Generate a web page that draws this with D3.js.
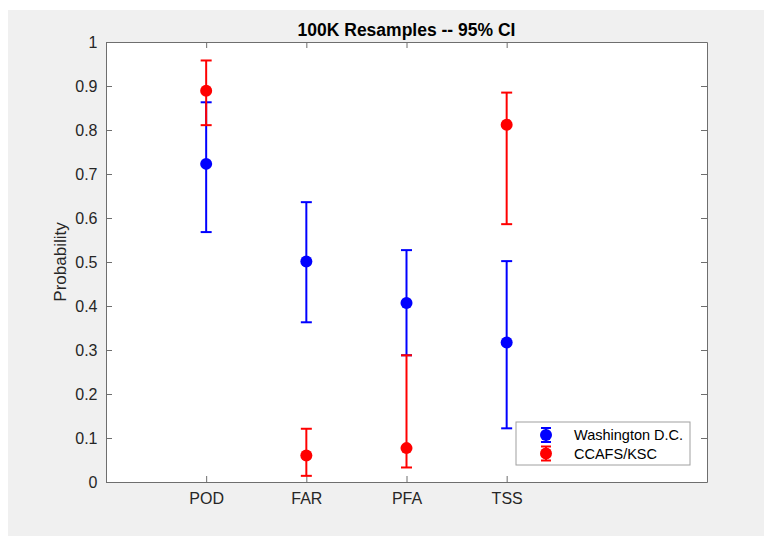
<!DOCTYPE html>
<html>
<head>
<meta charset="utf-8">
<script src="https://cdn.jsdelivr.net/npm/d3@7"></script>
<style>
  html, body { margin: 0; padding: 0; background: #ffffff; }
  svg { display: block; font-family: "Liberation Sans", Arial, Helvetica, sans-serif; }
</style>
</head>
<body>
<svg id="chart" width="764" height="536"></svg>
<script>
// ---- Data ----
const categories = ["POD", "FAR", "PFA", "TSS"];
const seriesNames = ["Washington D.C.", "CCAFS/KSC"];
const seriesColors = ["#0000ff", "#ff0000"];
const dcMean  = [0.723, 0.501, 0.407, 0.317];
const dcLow   = [0.568, 0.363, 0.288, 0.122];
const dcHigh  = [0.863, 0.636, 0.527, 0.502];
const kscMean = [0.889, 0.060, 0.077, 0.812];
const kscLow  = [0.811, 0.014, 0.033, 0.586];
const kscHigh = [0.958, 0.121, 0.288, 0.885];
const yTicks = [0, 0.1, 0.2, 0.3, 0.4, 0.5, 0.6, 0.7, 0.8, 0.9, 1];
const titleText = "100K Resamples -- 95% CI";
const yLabelText = "Probability";

const series = [
  { name: seriesNames[0], color: seriesColors[0], mean: dcMean, low: dcLow, high: dcHigh },
  { name: seriesNames[1], color: seriesColors[1], mean: kscMean, low: kscLow, high: kscHigh }
];

// ---- Layout ----
const svg = d3.select("#chart");
const W = 764, H = 536;
const plot = { left: 106, top: 42, right: 707, bottom: 482 };

svg.append("rect").attr("x", 8).attr("y", 10).attr("width", W - 8).attr("height", H - 10).attr("fill", "#f0f0f0");

const x = d3.scaleLinear().domain([0, categories.length + 2]).range([plot.left, plot.right]);
const y = d3.scaleLinear().domain([0, 1]).range([plot.bottom, plot.top]);

svg.append("rect")
  .attr("x", plot.left).attr("y", plot.top)
  .attr("width", plot.right - plot.left).attr("height", plot.bottom - plot.top)
  .attr("fill", "#ffffff");

const axisColor = "#6e6e6e";
const textColor = "#262626";
const tickLen = 6;
const catPos = categories.map((c, i) => i + 1);

// Left axis
const yAxisL = d3.axisLeft(y).tickValues(yTicks).tickSizeInner(-tickLen).tickSizeOuter(0).tickPadding(8.5)
  .tickFormat(d => d3.format("")(+d.toFixed(1)));
const gL = svg.append("g").attr("transform", `translate(${plot.left},0)`).call(yAxisL);
// Right axis (ticks only)
const yAxisR = d3.axisRight(y).tickValues(yTicks).tickSizeInner(-tickLen).tickSizeOuter(0).tickFormat("");
const gR = svg.append("g").attr("transform", `translate(${plot.right},0)`).call(yAxisR);
// Bottom axis
const xAxisB = d3.axisBottom(x).tickValues(catPos).tickSizeInner(-tickLen).tickSizeOuter(0).tickPadding(11)
  .tickFormat((d, i) => categories[i]);
const gB = svg.append("g").attr("transform", `translate(0,${plot.bottom})`).call(xAxisB);
// Top axis (ticks only)
const xAxisT = d3.axisTop(x).tickValues(catPos).tickSizeInner(-tickLen).tickSizeOuter(0).tickFormat("");
const gT = svg.append("g").attr("transform", `translate(0,${plot.top})`).call(xAxisT);

[gL, gR, gB, gT].forEach(g => {
  g.select(".domain").attr("stroke", axisColor).attr("stroke-width", 1);
  g.selectAll(".tick line").attr("stroke", axisColor).attr("stroke-width", 1);
  g.selectAll(".tick text").attr("fill", textColor).attr("font-size", "16px")
    .attr("font-family", '"Liberation Sans", Arial, sans-serif');
});

// Error bars
const capHalf = 5.5;
const plotG = svg.append("g");
series.forEach(s => {
  const g = plotG.append("g");
  categories.forEach((c, i) => {
    const cx = x(catPos[i]);
    g.append("line").attr("x1", cx).attr("x2", cx).attr("y1", y(s.low[i])).attr("y2", y(s.high[i]))
      .attr("stroke", s.color).attr("stroke-width", 2);
    [s.low[i], s.high[i]].forEach(v => {
      g.append("line").attr("x1", cx - capHalf).attr("x2", cx + capHalf).attr("y1", y(v)).attr("y2", y(v))
        .attr("stroke", s.color).attr("stroke-width", 2);
    });
    g.append("circle").attr("cx", cx).attr("cy", y(s.mean[i])).attr("r", 6).attr("fill", s.color);
  });
});

// Title
svg.append("text").attr("x", (plot.left + plot.right) / 2).attr("y", 36)
  .attr("text-anchor", "middle").attr("font-weight", "bold").attr("font-size", "17.5px")
  .attr("fill", "#000").text(titleText);

// Y label
svg.append("text").attr("transform", `translate(66,${(plot.top + plot.bottom) / 2}) rotate(-90)`)
  .attr("text-anchor", "middle").attr("font-size", "17px").attr("fill", textColor).text(yLabelText);

// Legend
const lg = svg.append("g");
const lgBox = { x: 516, y: 422, w: 174, h: 43 };
lg.append("rect").attr("x", lgBox.x).attr("y", lgBox.y).attr("width", lgBox.w).attr("height", lgBox.h)
  .attr("fill", "#ffffff").attr("stroke", "#a0a0a0").attr("stroke-width", 1);
series.forEach((s, i) => {
  const cy = 435 + i * 18.5;
  const mx = 546;
  lg.append("line").attr("x1", mx).attr("x2", mx).attr("y1", cy - 7).attr("y2", cy + 7).attr("stroke", s.color).attr("stroke-width", 2);
  [cy - 7, cy + 7].forEach(yy => lg.append("line").attr("x1", mx - 5).attr("x2", mx + 5).attr("y1", yy).attr("y2", yy)
    .attr("stroke", s.color).attr("stroke-width", 2));
  lg.append("circle").attr("cx", mx).attr("cy", cy).attr("r", 6).attr("fill", s.color);
  lg.append("text").attr("x", 574).attr("y", cy).attr("dy", "0.35em").attr("font-size", "14.5px")
    .attr("fill", "#000").text(s.name);
});
</script>
</body>
</html>
